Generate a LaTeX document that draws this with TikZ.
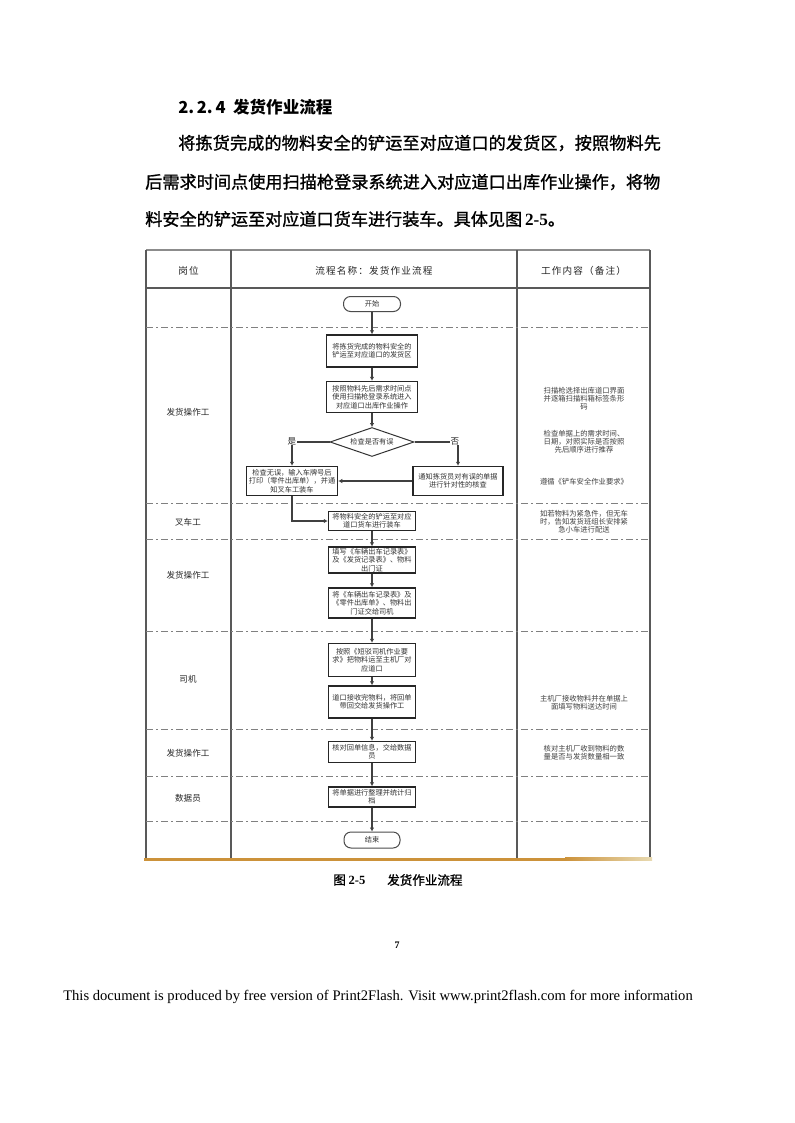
\documentclass[tikz,border=0pt]{standalone}
\usepackage{fontspec}
\setmainfont{Noto Sans CJK SC}
\newfontfamily\cjkbold{Noto Sans CJK SC}[FakeBold=1.2]
\newfontfamily\serif{Liberation Serif}
\usetikzlibrary{shapes.geometric,arrows.meta}
\newdimen\pxu \pxu=0.75pt
\definecolor{goldline}{RGB}{204,146,58}
\definecolor{goldfade}{RGB}{232,218,178}
\newcommand\boxfont{\fontsize{5.4pt}{6.3pt}\selectfont}
\newcommand\notefont{\fontsize{5.5pt}{6.1pt}\selectfont}
\newcommand\rolefont{\fontsize{6.4pt}{7pt}\selectfont}
\newcommand\headfont{\fontsize{7.2pt}{8pt}\selectfont\addfontfeature{LetterSpace=12}}
\newcommand\jline[2]{\parbox{#1}{\XeTeXlinebreaklocale "zh"\XeTeXlinebreakskip=0pt plus 6pt\parfillskip=0pt\noindent #2}}
\tikzset{
  frame/.style={draw=black!65, line width=1.3\pxu},
  sepline/.style={draw=black!50, line width=1\pxu, dash pattern=on 7\pxu off 3\pxu on 2\pxu off 3\pxu},
  proc/.style={draw=black!85, line width=1.5\pxu, fill=white, minimum width=87\pxu, inner sep=0.5pt, align=center, font=\boxfont, text=black!80},
  term/.style={draw=black!70, line width=1\pxu, rounded corners=7\pxu, minimum width=57\pxu, minimum height=15\pxu, font=\boxfont, inner sep=0pt, text=black!80},
  dec/.style={diamond, aspect=2.9, draw=black!80, line width=1\pxu, minimum width=84\pxu, minimum height=29\pxu, inner sep=0pt, font=\boxfont, text=black!80},
  flow/.style={draw=black!75, line width=0.9pt, -{Latex[length=3pt,width=3.4pt]}},
  note/.style={align=center, font=\notefont, text=black!75},
  role/.style={font=\rolefont, text=black!85},
  head/.style={font=\headfont, text=black!85},
  lab/.style={font=\rolefont, fill=white, inner sep=0.3pt, text=black!85},
  para/.style={anchor=west, inner sep=0pt, font=\cjkbold\fontsize{12.85pt}{15pt}\selectfont}
}
\begin{document}
\begin{tikzpicture}[x=0.75pt, y=-0.75pt]
\useasboundingbox (0,0) rectangle (794,1123);
\fill[white] (0,0) rectangle (794,1123);

% heading and paragraph
\node[anchor=west, inner sep=0pt, font=\fontsize{12.4pt}{14pt}\selectfont\bfseries] (title) at (178,107) {2.\,2.\,4\ \ 发货作业流程};
\node[para] (p1) at (178,143) {\jline{362pt}{将拣货完成的物料安全的铲运至对应道口的发货区，按照物料先}};
\node[para] (p2) at (145,182) {\jline{386.25pt}{后需求时间点使用扫描枪登录系统进入对应道口出库作业操作，将物}};
\node[para] (p3) at (145,219) {料安全的铲运至对应道口货车进行装车。具体见图\,{\serif\bfseries 2-5}。};

% table frame
\draw[draw=black!45, line width=1.2\pxu] (146,250) -- (650,250);
\foreach \x in {146,231,517,650} \draw[frame] (\x,250) -- (\x,858);
\draw[frame] (146,288) -- (650,288);
\foreach \y in {327,503,539,631,729,776,821} \draw[sepline] (146,\y) -- (650,\y);
\fill[goldline] (144,857.5) rectangle (565,860.5);
\fill[left color=goldline, right color=goldfade] (565,857.5) rectangle (652,860.5);

% header
\node[head] (h1) at (188.5,271) {岗位};
\node[head] (h2) at (374,271) {流程名称：发货作业流程};
\node[head] (h3) at (583.5,271) {工作内容（备注）};

% roles
\node[role] (r1) at (188,412) {发货操作工};
\node[role] (r2) at (188,522) {叉车工};
\node[role] (r3) at (188,575) {发货操作工};
\node[role] (r4) at (188,679) {司机};
\node[role] (r5) at (188,753) {发货操作工};
\node[role] (r6) at (188,798) {数据员};

% flow nodes
\node[term] (start) at (372,304) {开始};
\node[proc, minimum width=91\pxu, minimum height=32\pxu] (b1) at (372,351) {将拣货完成的物料安全的\\铲运至对应道口的发货区};
\node[proc, minimum width=91\pxu, minimum height=31\pxu] (b2) at (372,397) {按照物料先后需求时间点\\使用扫描枪登录系统进入\\对应道口出库作业操作};
\node[dec] (dia) at (372,442) {检查是否有误};
\node[proc, minimum width=91\pxu, minimum height=29\pxu] (b3) at (292,481) {检查无误，输入车牌号后\\打印（零件出库单），并通\\知叉车工装车};
\node[proc, minimum width=90\pxu, minimum height=29\pxu] (b4) at (458,481) {通知拣货员对有误的单据\\进行针对性的核查};
\node[proc, minimum height=19\pxu] (b5) at (372,521) {将物料安全的铲运至对应\\道口货车进行装车};
\node[proc, minimum height=26\pxu] (b6) at (372,560) {填写《车辆出车记录表》\\及《发货记录表》、物料\\出门证};
\node[proc, minimum height=30\pxu] (b7) at (372,603) {将《车辆出车记录表》及\\《零件出库单》、物料出\\门证交给司机};
\node[proc, minimum height=33\pxu] (b8) at (372,660) {按照《短驳司机作业要\\求》把物料运至主机厂对\\应道口};
\node[proc, minimum height=32\pxu] (b9) at (372,702) {道口接收完物料，将回单\\带回交给发货操作工};
\node[proc, minimum height=21\pxu] (b10) at (372,752) {核对回单信息，交给数据\\员};
\node[proc, minimum height=20\pxu] (b11) at (372,797) {将单据进行整理并统计归\\档};
\node[term, minimum width=56\pxu, minimum height=16\pxu] (end) at (372,840) {结束};

% connectors
\draw[flow] (start) -- (b1);
\draw[flow] (b1) -- (b2);
\draw[flow] (b2) -- (dia);
\draw[flow] (dia.west) -| (b3.north);
\draw[flow] (dia.east) -| (b4.north);
\draw[flow, line width=1.5pt] (b4.west) -- (b3.east);
\draw[flow] (b3.south) |- (b5.west);
\draw[flow] (b5) -- (b6);
\draw[flow] (b6) -- (b7);
\draw[flow] (b7) -- (b8);
\draw[flow] (b8) -- (b9);
\draw[flow] (b9) -- (b10);
\draw[flow] (b10) -- (b11);
\draw[flow] (b11) -- (end);
\node[lab] (yes) at (292,441) {是};
\node[lab] (no) at (455,441) {否};

% notes
\node[note] (n1) at (584,399) {扫描枪选择出库道口界面\\并逐箱扫描料箱标签条形\\码};
\node[note] (n2) at (584,442) {检查单据上的需求时间、\\日期，对照实际是否按照\\先后顺序进行推荐};
\node[note] (n3) at (584,482) {遵循《铲车安全作业要求》};
\node[note] (n4) at (584,522) {如若物料为紧急件，但无车\\时，告知发货班组长安排紧\\急小车进行配送};
\node[note] (n5) at (584,703) {主机厂接收物料并在单据上\\面填写物料送达时间};
\node[note] (n6) at (584,753) {核对主机厂收到物料的数\\量是否与发货数量相一致};

% caption, page number, footer
\node[anchor=west, inner sep=0pt, font=\cjkbold\fontsize{9.4pt}{11pt}\selectfont] (cap1) at (333,880) {图 {\serif\bfseries 2-5}};
\node[anchor=west, inner sep=0pt, font=\cjkbold\fontsize{9.4pt}{11pt}\selectfont] (cap2) at (387,880) {发货作业流程};
\node[inner sep=0pt, font=\serif\bfseries\fontsize{7.5pt}{8pt}\selectfont] (pg) at (397,945) {7};
\node[anchor=west, inner sep=0pt, font=\serif\fontsize{10.95pt}{12pt}\selectfont] (foot) at (63,997) {This document is produced by free version of Print2Flash. Visit www.print2flash.com for more information};
\end{tikzpicture}
\end{document}
